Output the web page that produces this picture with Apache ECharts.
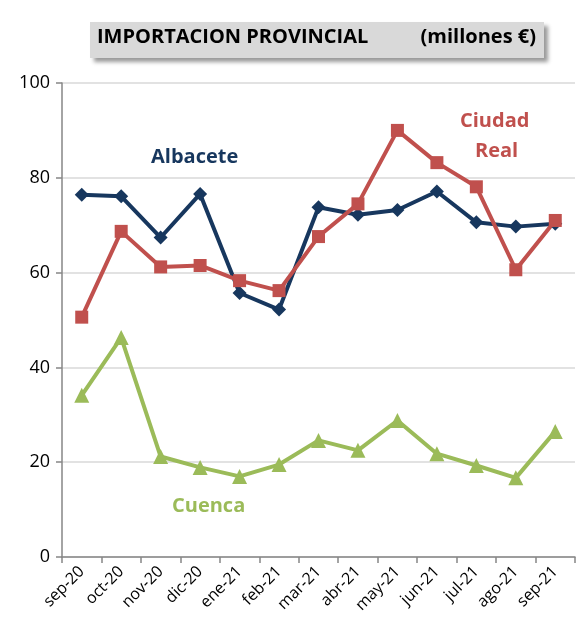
<!DOCTYPE html>
<html>
<head>
<meta charset="utf-8">
<script src="https://cdn.jsdelivr.net/npm/echarts@6/dist/echarts.min.js"></script>
<style>html,body{margin:0;padding:0;background:#fff}#c{width:588px;height:632px}</style>
</head>
<body>
<div id="c"></div>
<script>
var categories = ['sep-20','oct-20','nov-20','dic-20','ene-21','feb-21','mar-21','abr-21','may-21','jun-21','jul-21','ago-21','sep-21'];
var albacete = [76.4, 76.1, 67.4, 76.6, 55.7, 52.2, 73.8, 72.2, 73.2, 77.1, 70.6, 69.7, 70.3];
var ciudadReal = [50.6, 68.7, 61.2, 61.5, 58.3, 56.2, 67.6, 74.5, 90.0, 83.2, 78.1, 60.6, 71.0];
var cuenca = [34.1, 46.3, 21.2, 18.9, 17.0, 19.5, 24.6, 22.5, 28.8, 21.8, 19.3, 16.7, 26.5];
var yTicks = [0, 20, 40, 60, 80, 100];

var FONT = 'Open Sans';
var chart = echarts.init(document.getElementById('c'));
chart.setOption({
  backgroundColor: '#fff',
  animation: false,
  grid: {left: 62, right: 13, top: 83, bottom: 75},
  xAxis: {
    type: 'category', data: categories, boundaryGap: true,
    axisLine: {lineStyle: {color: '#868686', width: 1.5}},
    axisTick: {show: true, alignWithLabel: false, length: 6, lineStyle: {color: '#868686', width: 1.5}},
    axisLabel: {rotate: 45, color: '#000', fontSize: 16, fontFamily: FONT, margin: 12, interval: 0}
  },
  yAxis: {
    type: 'value', min: yTicks[0], max: yTicks[yTicks.length-1], interval: 20,
    axisLine: {show: true, lineStyle: {color: '#868686', width: 1.5}},
    axisTick: {show: true, length: 6, lineStyle: {color: '#868686', width: 1.5}},
    axisLabel: {color: '#000', fontSize: 18, fontFamily: FONT, margin: 12},
    splitLine: {lineStyle: {color: '#d9d9d9', width: 1.5}}
  },
  series: [
    {name: 'Albacete', type: 'line', data: albacete, symbol: 'diamond', symbolSize: 14,
     lineStyle: {color: '#17375E', width: 4}, itemStyle: {color: '#17375E'}},
    {name: 'Ciudad Real', type: 'line', data: ciudadReal, symbol: 'rect', symbolSize: 13,
     lineStyle: {color: '#C0504D', width: 4}, itemStyle: {color: '#C0504D'}},
    {name: 'Cuenca', type: 'line', data: cuenca, symbol: 'triangle', symbolSize: 15,
     lineStyle: {color: '#9BBB59', width: 4}, itemStyle: {color: '#9BBB59'}}
  ],
  graphic: [
    {type: 'rect', shape: {x: 90, y: 22, width: 454, height: 36},
     style: {fill: '#d9d9d9', shadowBlur: 4, shadowOffsetX: 4, shadowOffsetY: 4, shadowColor: 'rgba(0,0,0,0.4)'}},
    {type: 'text', left: 97, top: 27, style: {text: 'IMPORTACION PROVINCIAL', fill: '#000', font: 'bold 20px "Open Sans"'}},
    {type: 'text', right: 52, top: 27, style: {text: '(millones €)', fill: '#000', font: 'bold 20px "Open Sans"'}},
    {type: 'text', left: 151, top: 147, style: {text: 'Albacete', fill: '#17375E', font: 'bold 20px "Open Sans"'}},
    {type: 'text', left: 460, top: 111, style: {text: 'Ciudad', fill: '#C0504D', font: 'bold 20px "Open Sans"'}},
    {type: 'text', left: 475, top: 141, style: {text: 'Real', fill: '#C0504D', font: 'bold 20px "Open Sans"'}},
    {type: 'text', left: 172, top: 496, style: {text: 'Cuenca', fill: '#9BBB59', font: 'bold 20px "Open Sans"'}}
  ]
});
</script>
</body>
</html>
